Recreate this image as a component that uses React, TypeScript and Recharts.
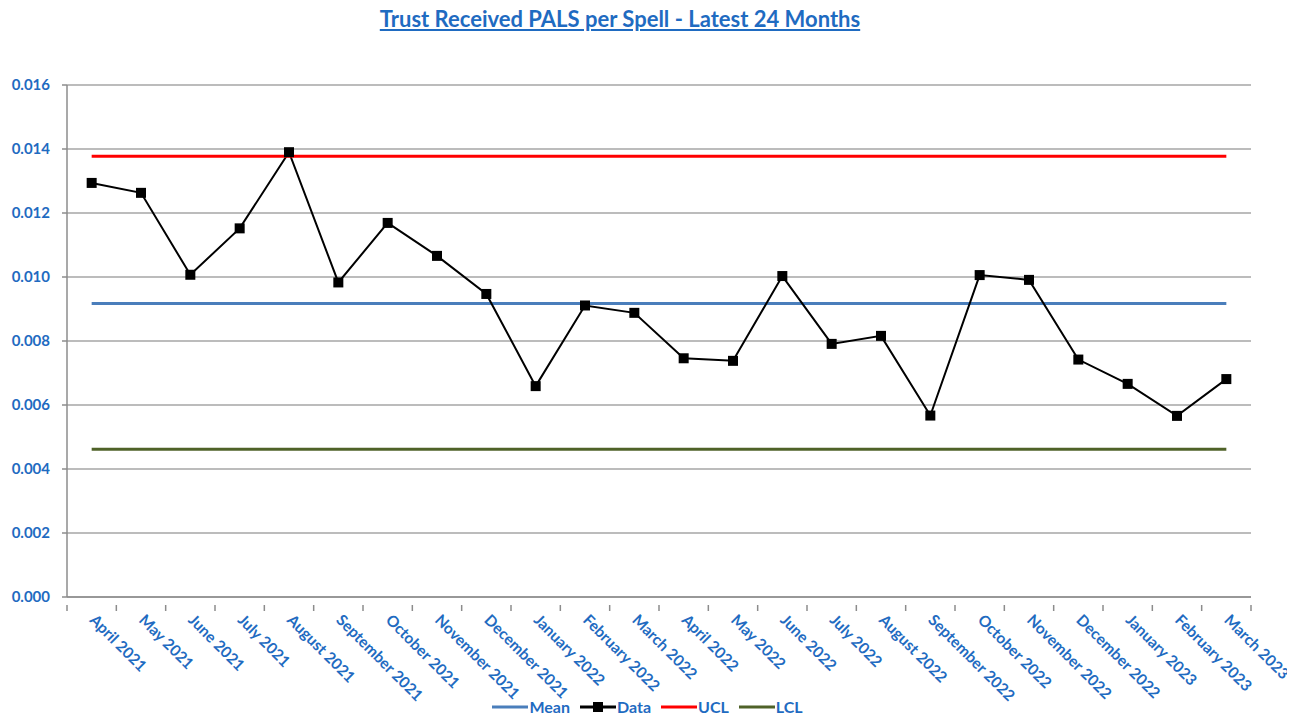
import React from 'react';
import {
    LineChart,
    Line,
    XAxis,
    YAxis,
    CartesianGrid,
} from 'recharts';

const months = [
    'April 2021', 'May 2021', 'June 2021', 'July 2021', 'August 2021', 'September 2021',
    'October 2021', 'November 2021', 'December 2021', 'January 2022', 'February 2022', 'March 2022',
    'April 2022', 'May 2022', 'June 2022', 'July 2022', 'August 2022', 'September 2022',
    'October 2022', 'November 2022', 'December 2022', 'January 2023', 'February 2023', 'March 2023',
];

const palsPerSpell = [
    0.01294, 0.01263, 0.01007, 0.01152, 0.01390, 0.00983,
    0.01169, 0.01066, 0.00947, 0.00659, 0.00911, 0.00888,
    0.00746, 0.00738, 0.01003, 0.00791, 0.00816, 0.00567,
    0.01006, 0.00991, 0.00742, 0.00666, 0.00566, 0.00681,
];

const MEAN = 0.00917;
const UCL = 0.01377;
const LCL = 0.00462;

const yTicks = [0, 0.002, 0.004, 0.006, 0.008, 0.01, 0.012, 0.014, 0.016];

const BLUE_TEXT = '#1F6BC1';
const FONT = 'Lato, "Open Sans", sans-serif';

const data = palsPerSpell.map((v, i) => ({
    pos: i + 0.5,
    month: months[i],
    value: v,
    mean: MEAN,
    ucl: UCL,
    lcl: LCL,
}));

// tick marks at category edges, labels at category centres
const xTicks: number[] = [];
for (let i = 0; i <= months.length * 2; i++) xTicks.push(i / 2);

const XTick = ({ x, y, payload }: any) => {
    const v = payload.value as number;
    if (Number.isInteger(v)) {
        return <line x1={x} y1={y} x2={x} y2={y + 6} stroke="#8C8C8C" strokeWidth={1.5} />;
    }
    const label = months[Math.floor(v)];
    return (
        <text
            x={x - 3}
            y={y + 16}
            transform={`rotate(45, ${x - 3}, ${y + 16})`}
            fill={BLUE_TEXT}
            fontSize={15.5}
            fontWeight={700}
            fontFamily={FONT}
            textAnchor="start"
        >
            {label}
        </text>
    );
};

const SquareDot = ({ cx, cy }: any) => (
    <rect x={cx - 5} y={cy - 5} width={10} height={10} fill="#000" />
);

const legendItems = [
    { name: 'Mean', color: '#4A7EBB', marker: false },
    { name: 'Data', color: '#000000', marker: true },
    { name: 'UCL', color: '#FF0000', marker: false },
    { name: 'LCL', color: '#4F6228', marker: false },
];

const ChartLegend = () => (
    <div
        style={{
            position: 'absolute',
            top: 698,
            left: 0,
            width: 1295,
            display: 'flex',
            justifyContent: 'center',
            gap: 10,
            fontFamily: FONT,
        }}
    >
        {legendItems.map((it) => (
            <div key={it.name} style={{ display: 'flex', alignItems: 'center', height: 17 }}>
                <svg width={36} height={12}>
                    <line x1={0} y1={6} x2={36} y2={6} stroke={it.color} strokeWidth={3} />
                    {it.marker && <rect x={13} y={1} width={10} height={10} fill="#000" />}
                </svg>
                <span style={{ color: BLUE_TEXT, fontWeight: 700, fontSize: 16, lineHeight: '17px', marginLeft: 1 }}>
                    {it.name}
                </span>
            </div>
        ))}
    </div>
);

export default function App() {
    return (
        <div style={{ margin: -8, position: 'relative', width: 1295, height: 722, background: '#fff', overflow: 'hidden' }}>
            <div
                style={{
                    position: 'absolute',
                    top: 5,
                    left: 0,
                    width: 1240,
                    textAlign: 'center',
                    color: BLUE_TEXT,
                    fontFamily: FONT,
                    fontWeight: 700,
                    fontSize: 22,
                    textDecoration: 'underline',
                }}
            >
                Trust Received PALS per Spell - Latest 24 Months
            </div>
            <LineChart
                width={1295}
                height={722}
                data={data}
                margin={{ top: 85, right: 44, bottom: 22, left: 0 }}
            >
                <CartesianGrid horizontal vertical={false} stroke="#A6A6A6" strokeWidth={1.5} />
                <XAxis
                    dataKey="pos"
                    type="number"
                    domain={[0, 24]}
                    ticks={xTicks}
                    interval={0}
                    tick={<XTick />}
                    tickLine={false}
                    axisLine={{ stroke: '#8C8C8C', strokeWidth: 1.5 }}
                    height={103}
                />
                <YAxis
                    type="number"
                    domain={[0, 0.016]}
                    ticks={yTicks}
                    tickFormatter={(v) => Number(v).toFixed(3)}
                    tick={{ fill: BLUE_TEXT, fontSize: 15, fontWeight: 700, fontFamily: FONT, dx: -10 }}
                    tickLine={{ stroke: '#8C8C8C', strokeWidth: 1.5 }}
                    tickSize={5}
                    axisLine={{ stroke: '#8C8C8C', strokeWidth: 1.5 }}
                    width={67}
                />
                <Line dataKey="mean" stroke="#4A7EBB" strokeWidth={3} dot={false} isAnimationActive={false} />
                <Line dataKey="value" stroke="#000" strokeWidth={2} dot={<SquareDot />} isAnimationActive={false} />
                <Line dataKey="ucl" stroke="#FF0000" strokeWidth={3} dot={false} isAnimationActive={false} />
                <Line dataKey="lcl" stroke="#4F6228" strokeWidth={3} dot={false} isAnimationActive={false} />
            </LineChart>
            <ChartLegend />
        </div>
    );
}
